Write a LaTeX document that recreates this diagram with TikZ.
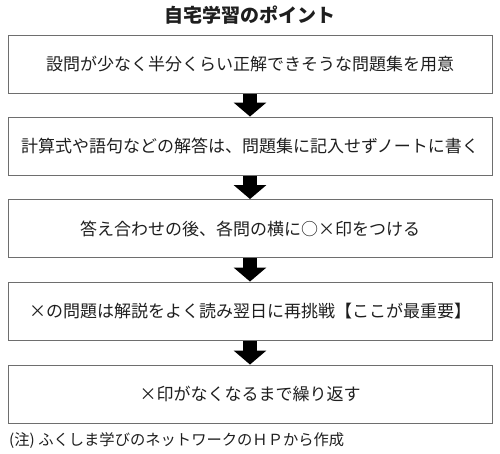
\documentclass[tikz,border=0pt]{standalone}
\usepackage{fontspec}
\setmainfont{Noto Sans CJK JP}
\usetikzlibrary{arrows.meta}
\definecolor{boxline}{HTML}{6E6E6E}
\definecolor{txt}{HTML}{1E1E1E}
\tikzset{
  stepbox/.style={draw=boxline, line width=0.9pt, minimum width=484pt, minimum height=58pt, inner sep=0pt, text=txt, font=\fontsize{17pt}{19pt}\selectfont},
  bigarrow/.style={line width=14pt, draw=black, -{Triangle[width=32pt,length=14pt]}, shorten <=0.5pt}
}
\begin{document}
\begin{tikzpicture}[x=1pt,y=-1pt]
\useasboundingbox (0,0) rectangle (500,454);
\node[text=txt, font=\fontsize{19pt}{21pt}\selectfont\bfseries] (title) at (250,15) {自宅学習のポイント};
\node[stepbox] (b1) at (250,64) {設問が少なく半分くらい正解できそうな問題集を用意};
\node[stepbox] (b2) at (250,146) {計算式や語句などの解答は、問題集に記入せずノートに書く};
\node[stepbox] (b3) at (250,228.5) {答え合わせの後、各問の横に○×印をつける};
\node[stepbox] (b4) at (250,311) {×の問題は解説をよく読み翌日に再挑戦【ここが最重要】};
\node[stepbox] (b5) at (250,394) {×印がなくなるまで繰り返す};
\node[anchor=west, text=txt, inner sep=0pt, font=\fontsize{15.3pt}{17pt}\selectfont] (note) at (9,441) {(注) ふくしま学びのネットワークのＨＰから作成};
\draw[bigarrow] (b1.south) -- (b2.north);
\draw[bigarrow] (b2.south) -- (b3.north);
\draw[bigarrow] (b3.south) -- (b4.north);
\draw[bigarrow] (b4.south) -- (b5.north);
\end{tikzpicture}
\end{document}
